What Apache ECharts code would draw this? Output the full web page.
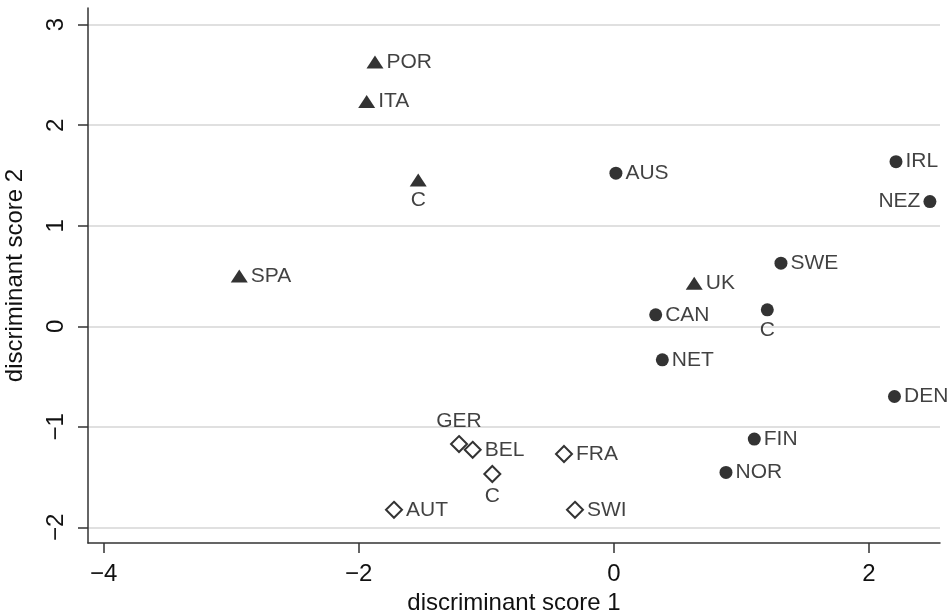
<!DOCTYPE html>
<html>
<head>
<meta charset="utf-8">
<script src="https://cdn.jsdelivr.net/npm/echarts@6/dist/echarts.min.js"></script>
<style>
html,body{margin:0;padding:0;background:#fff;}
#chart{width:950px;height:610px;}
</style>
</head>
<body>
<div id="chart"></div>
<script>
// Group 1 (triangles)
const triNames = ['POR', 'ITA', 'C', 'SPA', 'UK'];
const triX = [-1.873, -1.938, -1.534, -2.937, 0.630];
const triY = [2.629, 2.235, 1.456, 0.500, 0.429];
// Group 2 (filled circles)
const cirNames = ['AUS', 'IRL', 'NEZ', 'SWE', 'C', 'CAN', 'NET', 'DEN', 'FIN', 'NOR'];
const cirX = [0.016, 2.212, 2.478, 1.310, 1.203, 0.328, 0.380, 2.200, 1.101, 0.879];
const cirY = [1.523, 1.638, 1.241, 0.628, 0.164, 0.114, -0.333, -0.698, -1.121, -1.453];
// Group 3 (hollow diamonds)
const diaNames = ['GER', 'BEL', 'C', 'FRA', 'AUT', 'SWI'];
const diaX = [-1.214, -1.107, -0.953, -0.391, -1.724, -0.305];
const diaY = [-1.171, -1.228, -1.469, -1.270, -1.825, -1.825];

// Axis ticks
const xTicks = [-4, -2, 0, 2];
const yTicks = [-2, -1, 0, 1, 2, 3];
const xRange = [-4.123, 2.557];
const yRange = [-2.155, 3.166];

// label placement (style, not data)
const triLabelPos = ['right', 'right', 'bottom', 'right', 'right'];
const cirLabelPos = ['right', 'right', 'left', 'right', 'bottom', 'right', 'right', 'right', 'right', 'right'];
const diaLabelPos = ['top', 'right', 'bottom', 'right', 'right', 'right'];

const FONT = '"Liberation Sans", Arial, Helvetica, sans-serif';
const fmtTick = v => (v < 0 ? '\u2212' + Math.abs(v) : String(v));

function build(names, xs, ys, pos) {
  return names.map((n, i) => ({
    value: [xs[i], ys[i]],
    name: n,
    label: { position: pos[i] }
  }));
}

const labelBase = {
  show: true,
  formatter: p => p.name,
  color: '#111',
  fontFamily: FONT,
  fontSize: 21,
  distance: 3
};

const chart = echarts.init(document.getElementById('chart'), null, { renderer: 'canvas' });
chart.setOption({
  animation: false,
  backgroundColor: '#ffffff',
  grid: { left: 88, right: 10, top: 8, bottom: 67, containLabel: false, outerBoundsMode: 'none' },
  xAxis: {
    type: 'value',
    min: xRange[0],
    max: xRange[1],
    name: 'discriminant score 1',
    nameLocation: 'middle',
    nameGap: 42,
    nameTextStyle: { fontFamily: FONT, fontSize: 24, color: '#111' },
    axisLine: { show: true, onZero: false, lineStyle: { color: '#333', width: 1.5 } },
    axisTick: { show: true, customValues: xTicks, length: 10, lineStyle: { color: '#333', width: 1.5 } },
    axisLabel: { customValues: xTicks, formatter: fmtTick, fontFamily: FONT, fontSize: 24, color: '#111', margin: 19 },
    splitLine: { show: false }
  },
  yAxis: {
    type: 'value',
    min: yRange[0],
    max: yRange[1],
    name: 'discriminant score 2',
    nameLocation: 'middle',
    nameGap: 61,
    nameRotate: 90,
    nameTextStyle: { fontFamily: FONT, fontSize: 24, color: '#111' },
    axisLine: { show: true, onZero: false, lineStyle: { color: '#333', width: 1.5 } },
    axisTick: { show: true, customValues: yTicks, length: 10, lineStyle: { color: '#333', width: 1.5 } },
    axisLabel: { customValues: yTicks, formatter: fmtTick, rotate: 90, fontFamily: FONT, fontSize: 24, color: '#111', margin: 20 },
    splitLine: { show: true, customValues: yTicks, lineStyle: { color: '#d6d6d6', width: 1.5 } }
  },
  series: [
    {
      type: 'scatter',
      symbol: 'triangle',
      symbolSize: [17, 13],
      itemStyle: { color: '#000' },
      label: labelBase,
      data: build(triNames, triX, triY, triLabelPos)
    },
    {
      type: 'scatter',
      symbol: 'circle',
      symbolSize: 13,
      itemStyle: { color: '#000' },
      label: labelBase,
      data: build(cirNames, cirX, cirY, cirLabelPos)
    },
    {
      type: 'scatter',
      symbol: 'diamond',
      symbolSize: 16,
      itemStyle: { color: '#fff', borderColor: '#000', borderWidth: 2 },
      label: labelBase,
      data: build(diaNames, diaX, diaY, diaLabelPos)
    }
  ]
});
</script>
</body>
</html>
